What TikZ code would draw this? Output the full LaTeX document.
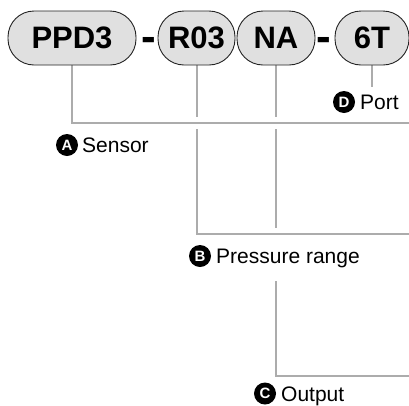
\documentclass[tikz,border=0pt]{standalone}
\usepackage{fontspec}
\setmainfont{Liberation Sans}
\usepackage{tikz}
\usetikzlibrary{backgrounds}
\definecolor{pillgray}{RGB}{224, 224, 224}
\definecolor{wire}{RGB}{172, 172, 172}
\definecolor{rim}{RGB}{35, 35, 35}

\begin{document}
\begin{tikzpicture}[x=1pt, y=-1pt,
  code/.style={draw=rim, fill=pillgray, line width=0.9pt, rounded corners=26pt,
    minimum height=54pt, inner sep=0pt, font=\fontsize{31}{31}\selectfont\bfseries},
  sep/.style={anchor=base, inner sep=0pt, font=\fontsize{44}{44}\selectfont\bfseries},
  lead/.style={draw=wire, line width=2pt},
  jump/.style={preaction={draw=white, line width=12pt}},
  badge/.style={circle, fill=black, text=white, minimum size=22pt, inner sep=0pt,
    font=\fontsize{15}{15}\selectfont\bfseries},
  tag/.style={anchor=base west, inner sep=1pt, fill=white, text height=15pt,
    text depth=4.5pt, font=\fontsize{21}{21}\selectfont}]
  \useasboundingbox (0, 0) rectangle (409, 405);

  % the code, piece by piece
  \node[code, minimum width=128pt] (ppd) at (72, 38) {PPD3};
  \node[sep] (dash1) at (149, 51.2) {-};
  \node[code, minimum width=77pt] (rng) at (196.5, 38) {R03};
  \node[code, minimum width=78pt] (out) at (276, 38) {NA};
  \node[sep] (dash2) at (324, 51.2) {-};
  \node[code, minimum width=74pt] (prt) at (372, 38) {6T};

  % ends of the leads
  \coordinate (endA) at (409, 123);
  \coordinate (endB) at (409, 234);
  \coordinate (endC) at (409, 376);
  \coordinate (endD) at (372, 87);

  \begin{scope}[on background layer]
    \draw[lead] (out.south) |- (endC);
    \draw[lead, jump] (rng.south) |- (endB);
    \draw[lead, jump] (ppd.south) |- (endA);
    \draw[lead] (prt.south) -- (endD);
  \end{scope}

  % labels
  \node[badge] (mkD) at (344, 102) {D};
  \node[tag] (labD) at (359, 109.5) {Port};

  \node[badge] (mkA) at (67, 145) {A};
  \node[tag] (labA) at (81, 152.5) {Sensor};

  \node[badge] (mkB) at (200, 256) {B};
  \node[tag, text height=25pt, text depth=16pt] (labB) at (215, 263.5) {Pressure range};

  \node[badge] (mkC) at (265, 393.5) {C};
  \node[tag] (labC) at (280, 401) {Output};
\end{tikzpicture}
\end{document}
